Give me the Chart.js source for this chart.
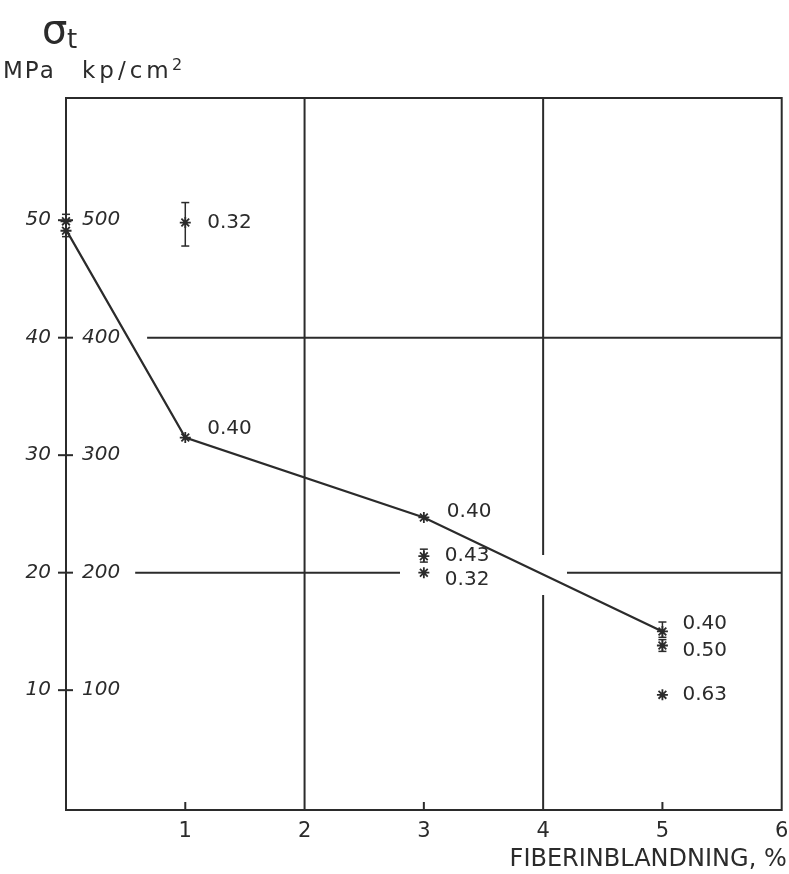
<!DOCTYPE html>
<html>
<head>
<meta charset="utf-8">
<title>Draghållfasthet och fiberinblandning</title>
<script src="https://cdn.jsdelivr.net/npm/chart.js@4/dist/chart.umd.min.js"></script>
<style>
  html, body { margin: 0; padding: 0; background: #ffffff; }
  #c { display: block; }
</style>
</head>
<body>
<canvas id="c" width="789" height="874"></canvas>
<script>
// Mean tensile strength (MPa) against fibre content (%)
const fiberPct = [0, 1, 3, 5];
const strengthMPa = [49.2, 31.5, 24.7, 15.0];

// Individual test results (asterisks)
const sampleX = [0, 0, 1, 1, 3, 3, 3, 5, 5, 5];
const sampleMPa = [49.9, 49.1, 49.8, 31.5, 24.7, 21.4, 20.0, 15.0, 13.8, 9.6];

// Scatter ranges (vertical bars with caps)
const rangeX = [0, 1, 3, 5, 5];
const rangeLow = [48.6, 47.8, 20.9, 14.5, 13.3];
const rangeHigh = [50.5, 51.5, 22.0, 15.8, 14.3];

// Water/cement ratio written beside each result
const noteX = [1, 1, 3, 3, 3, 5, 5, 5];
const noteMPa = [49.8, 31.5, 24.7, 21.4, 20.0, 15.0, 13.8, 9.6];
const noteText = ['0.32', '0.40', '0.40', '0.43', '0.32', '0.40', '0.50', '0.63'];

// Axis ticks
const xTickValues = [1, 2, 3, 4, 5, 6];
const yTickMPa = [10, 20, 30, 40, 50];
const yTickKp = [100, 200, 300, 400, 500];

// Grid line pieces, in axis units, broken where text or the curve passes
const gridSegments = [
  [[2, -0.2], [2, 60.4]],
  [[4, -0.2], [4, 18.1]],
  [[4, 21.5], [4, 60.4]],
  [[0.68, 40], [6, 40]],
  [[0.58, 20], [2.8, 20]],
  [[4.2, 20], [6, 20]]
];

const INK = '#2b2b2b';
const FONT = '"DejaVu Sans", "Liberation Sans", sans-serif';

const datasets = [];

gridSegments.forEach(seg => {
  datasets.push({
    data: seg.map(p => ({ x: p[0], y: p[1] })),
    showLine: true,
    borderColor: INK,
    borderWidth: 2,
    pointRadius: 0,
    clip: false
  });
});

datasets.push({
  data: fiberPct.map((v, i) => ({ x: v, y: strengthMPa[i] })),
  showLine: true,
  borderColor: INK,
  borderWidth: 2.2,
  pointRadius: 0,
  clip: false
});

rangeX.forEach((rx, i) => {
  datasets.push({
    data: [{ x: rx, y: rangeLow[i] }, { x: rx, y: rangeHigh[i] }],
    showLine: true,
    borderColor: INK,
    borderWidth: 1.5,
    pointStyle: 'line',
    pointRadius: 4,
    pointBorderColor: INK,
    pointBorderWidth: 1.5,
    clip: false
  });
});

datasets.push({
  data: sampleX.map((v, i) => ({ x: v, y: sampleMPa[i] })),
  showLine: false,
  pointStyle: 'star',
  pointRadius: 5.5,
  pointBorderColor: INK,
  pointBorderWidth: 1.8,
  clip: false
});

// Frame, axis ticks and all lettering
const lettering = {
  id: 'lettering',
  afterDatasetsDraw(chart) {
    const { ctx, chartArea: a, scales: { x, y } } = chart;
    const seg = (x1, y1, x2, y2) => {
      ctx.beginPath(); ctx.moveTo(x1, y1); ctx.lineTo(x2, y2); ctx.stroke();
    };
    ctx.save();
    ctx.strokeStyle = INK;
    ctx.fillStyle = INK;
    ctx.lineWidth = 2;
    ctx.strokeRect(a.left, a.top, a.right - a.left, a.bottom - a.top);

    // y axis: ticks crossing the axis, MPa to the left, kp/cm2 to the right
    ctx.font = 'italic 20px ' + FONT;
    ctx.textBaseline = 'middle';
    yTickMPa.forEach((v, i) => {
      const py = y.getPixelForValue(v);
      seg(a.left - 8, py, a.left + 7, py);
      ctx.textAlign = 'right';
      ctx.fillText(String(v), a.left - 15, py);
      ctx.textAlign = 'left';
      ctx.fillText(String(yTickKp[i]), a.left + 16, py);
    });

    // x axis: short inner ticks, numbers below
    ctx.font = '21px ' + FONT;
    ctx.textAlign = 'center';
    xTickValues.forEach(v => {
      const px = x.getPixelForValue(v);
      if (v % 2 === 1) seg(px, a.bottom, px, a.bottom - 8);
      ctx.fillText(String(v), px, a.bottom + 22);
    });

    // axis titles
    ctx.font = '24px ' + FONT;
    ctx.textAlign = 'right';
    ctx.fillText('FIBERINBLANDNING, %', a.right + 5, a.bottom + 50);

    ctx.textAlign = 'left';
    ctx.textBaseline = 'alphabetic';
    ctx.font = '40px ' + FONT;
    ctx.fillText('σ', 42, 43);
    ctx.font = '26px ' + FONT;
    ctx.fillText('t', 67, 48);

    ctx.font = '23px ' + FONT;
    ctx.letterSpacing = '2px';
    ctx.fillText('MPa', 3, 78);
    ctx.letterSpacing = '4px';
    ctx.fillText('kp/cm', 82, 78);
    ctx.letterSpacing = '0px';
    ctx.font = '16px ' + FONT;
    ctx.fillText('2', 172, 70);

    // water/cement ratios beside the results
    const dy = [0, -9, -6, 0, 7, -8, 5, 0];
    const dx = [22, 22, 23, 21, 21, 20, 20, 20];
    ctx.font = '20px ' + FONT;
    ctx.textBaseline = 'middle';
    noteText.forEach((t, i) => {
      const px = x.getPixelForValue(noteX[i]);
      const py = y.getPixelForValue(noteMPa[i]);
      ctx.fillText(t, px + dx[i], py + dy[i]);
    });
    ctx.restore();
  }
};

new Chart(document.getElementById('c'), {
  type: 'scatter',
  data: { datasets },
  options: {
    responsive: false,
    devicePixelRatio: 1,
    animation: false,
    layout: { padding: { left: 66, top: 98, right: 6, bottom: 64 } },
    plugins: { legend: { display: false }, tooltip: { enabled: false } },
    scales: {
      x: { type: 'linear', min: 0, max: 6, display: false },
      y: { type: 'linear', min: -0.2, max: 60.4, display: false }
    }
  },
  plugins: [lettering]
});
</script>
</body>
</html>
